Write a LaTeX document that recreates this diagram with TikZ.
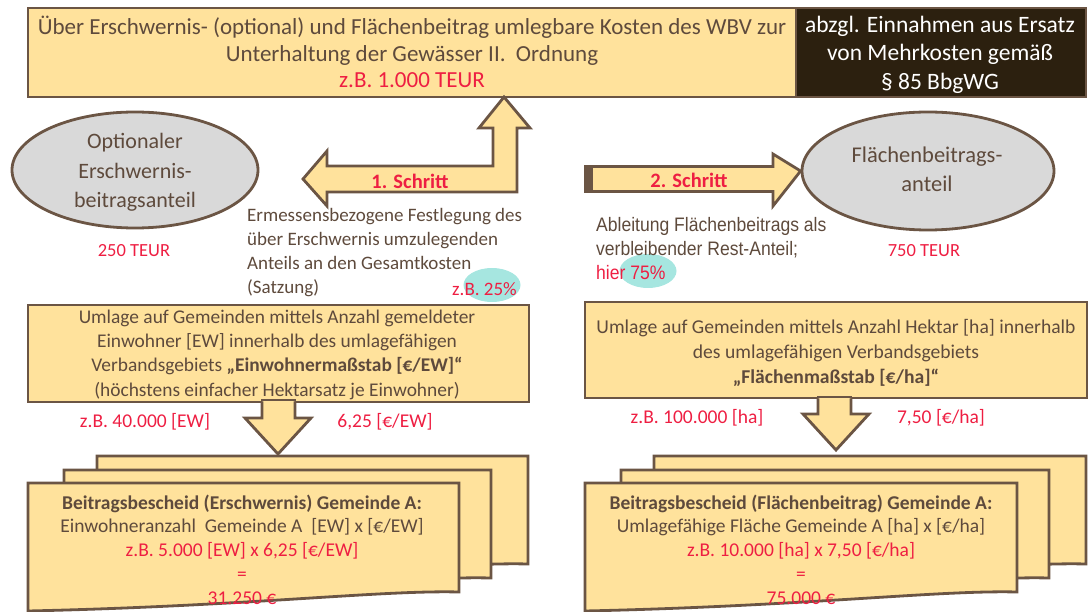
\documentclass[tikz,border=0pt]{standalone}
\usepackage{fontspec}
\setmainfont{Carlito}
\newfontfamily\narrowfont[FakeStretch=0.9]{Liberation Sans}
\usetikzlibrary{shapes.geometric}
\definecolor{ybox}{HTML}{FFE29C}
\definecolor{brd}{HTML}{6B5544}
\definecolor{txtc}{HTML}{5E4A3C}
\definecolor{cred}{HTML}{EE1E42}
\definecolor{ellg}{HTML}{D9D9D9}
\definecolor{cyanb}{HTML}{A6E6E0}
\definecolor{darkb}{HTML}{2C200F}
\newcommand\myfs[2]{\fontsize{#1}{#2}\selectfont}
\begin{document}
\begin{tikzpicture}[x=1pt,y=-1pt,
  ybox/.style={draw=brd, line width=2.8, fill=ybox, inner sep=0pt, outer sep=0pt},
  blk/.style={draw=brd, line width=2.8, fill=ybox, line join=miter},
  oval/.style={ellipse, draw=brd, line width=2.8, fill=ellg, inner sep=0pt},
  txt/.style={text=txtc, inner sep=0pt, align=center},
  redt/.style={text=cred, inner sep=0pt, align=center},
  hl/.style={ellipse, fill=cyanb, inner sep=0pt},
]
\path[use as bounding box] (0,0) rectangle (1088,612);
\clip (0,0) rectangle (1088,612);

% ---------- top boxes
\node[ybox, minimum width=768, minimum height=89] (topbox) at (412,52.5) {};
\node[ybox, fill=darkb, minimum width=290, minimum height=89] (darkbox) at (941,52.5) {};
\node[txt, font=\myfs{23}{26.5}] (toptext) at (412,52) {Über Erschwernis- (optional) und Flächenbeitrag umlegbare Kosten des WBV zur\\Unterhaltung der Gewässer II.~~Ordnung\\\textcolor{cred}{z.B. 1.000 TEUR}};
\node[txt, text=white, font=\myfs{23.5}{28.5}] (darktext) at (940,54.5) {abzgl. Einnahmen aus Ersatz\\von Mehrkosten gemäß\\§ 85 BbgWG};

% ---------- ellipses
\node[oval, minimum width=246, minimum height=116] (ellL) at (135,170) {};
\node[txt, font=\myfs{22}{29.5}] (ellLt) at (135,172.5) {Optionaler\\Erschwernis-\\beitragsanteil};
\node[redt, font=\myfs{18.5}{22}] (t250) at (134,251) {250 TEUR};
\node[oval, minimum width=252, minimum height=118] (ellR) at (928,171) {};
\node[txt, font=\myfs{22.5}{28.5}] (ellRt) at (927,169.5) {Flächenbeitrags-\\anteil};
\node[redt, font=\myfs{18.5}{22}] (t750) at (924,251) {750 TEUR};

% ---------- step arrows
\draw[blk] (303,179) -- (327,151) -- (327,166) -- (493,166) -- (493,128) -- (479,128)
  -- (topbox.south -| 504,0) -- (530,128) -- (517,128) -- (517,192) -- (327,192) -- (327,206) -- cycle;
\node[redt, font=\bfseries\myfs{20.5}{22}] (step1) at (410,181) {1. Schritt};
\draw[blk] (586,166.5) -- (773,166.5) -- (773,154) -- (ellR.west) -- (773,206) -- (773,191.5) -- (586,191.5) -- cycle;
\fill[brd] (584,165) rectangle (593,193);
\node[redt, font=\bfseries\myfs{20.5}{22}] (step2) at (689,180) {2. Schritt};

% ---------- explanation texts
\node[hl, minimum width=57, minimum height=34] (hl25) at (492,285) {};
\node[txt, align=left, anchor=west, font=\myfs{19}{24.3}] (erm) at (247,252.5) {Ermessensbezogene Festlegung des\\über Erschwernis umzulegenden\\Anteils an den Gesamtkosten\\(Satzung)};
\node[redt, anchor=east, font=\myfs{19}{22}] (z25) at (517,289) {z.B. 25\%};
\node[hl, minimum width=57, minimum height=34] (hl75) at (648,271) {};
\node[txt, align=left, anchor=west, font=\narrowfont\myfs{19.5}{24}] (abl) at (596,248.5) {Ableitung Flächenbeitrags als\\verbleibender Rest-Anteil;\\\textcolor{cred}{hier 75\%}};

% ---------- middle boxes
\node[ybox, minimum width=501, minimum height=97] (midL) at (278.5,353.5) {};
\node[txt, font=\myfs{19.4}{24.3}] (midLt) at (277,354.5) {Umlage auf Gemeinden mittels Anzahl gemeldeter\\Einwohner [EW] innerhalb des umlagefähigen\\Verbandsgebiets \textbf{„Einwohnermaßstab [€/EW]“}\\(höchstens einfacher Hektarsatz je Einwohner)};
\node[ybox, minimum width=502, minimum height=96] (midR) at (836,350) {};
\node[txt, font=\myfs{19.6}{25}] (midRt) at (836,353) {Umlage auf Gemeinden mittels Anzahl Hektar [ha] innerhalb\\des umlagefähigen Verbandsgebiets\\\textbf{„Flächenmaßstab [€/ha]“}};

% ---------- down arrows
\fill[ybox] (262,400) rectangle (295,420);
\draw[blk] (262,401.5) -- (262,418) -- (245,418) -- (278,454) -- (311,418) -- (295,418) -- (295,401.5);
\node[redt, font=\myfs{19.5}{22}] (ewL) at (145,422) {z.B. 40.000 [EW]};
\node[redt, font=\myfs{19.5}{22}] (ewR) at (385,422) {6,25 [€/EW]};
\fill[ybox] (818,397) rectangle (851,416);
\draw[blk] (818,398.5) -- (818,414) -- (803,414) -- (836,450) -- (869,414) -- (851,414) -- (851,398.5);
\node[redt, font=\myfs{19.5}{22}] (haL) at (697,418) {z.B. 100.000 [ha]};
\node[redt, font=\myfs{19.5}{22}] (haR) at (941,418) {7,50 [€/ha]};

% ---------- stacked documents left
\draw[blk] (97,456) -- (528,456) -- (528,564) .. controls (450,562) and (320,578) .. (97,582) -- cycle;
\draw[blk] (64,470) -- (491,470) -- (491,578) .. controls (410,576) and (280,592) .. (64,596) -- cycle;
\draw[blk] (28,483) -- (459,483) -- (459,592) .. controls (380,590) and (250,606) .. (28,611) -- cycle;
\node[txt, font=\myfs{19.5}{23.8}] (docL) at (242,549.5) {\textbf{Beitragsbescheid (Erschwernis) Gemeinde A:}\\Einwohneranzahl~~Gemeinde A~~[EW] x [€/EW]\\\textcolor{cred}{z.B. 5.000 [EW] x 6,25 [€/EW]}\\\textcolor{cred}{=}\\\textcolor{cred}{31.250 €}};

% ---------- stacked documents right
\draw[blk] (654,456) -- (1086,456) -- (1086,564) .. controls (1008,562) and (878,578) .. (654,582) -- cycle;
\draw[blk] (621,470) -- (1049,470) -- (1049,578) .. controls (970,576) and (840,592) .. (621,596) -- cycle;
\draw[blk] (585,483) -- (1017,483) -- (1017,592) .. controls (938,590) and (808,606) .. (585,611) -- cycle;
\node[txt, font=\myfs{19.5}{23.8}] (docR) at (801,549.5) {\textbf{Beitragsbescheid (Flächenbeitrag) Gemeinde A:}\\Umlagefähige Fläche Gemeinde A [ha] x [€/ha]\\\textcolor{cred}{z.B. 10.000 [ha] x 7,50 [€/ha]}\\\textcolor{cred}{=}\\\textcolor{cred}{75.000 €}};
\end{tikzpicture}
\end{document}
